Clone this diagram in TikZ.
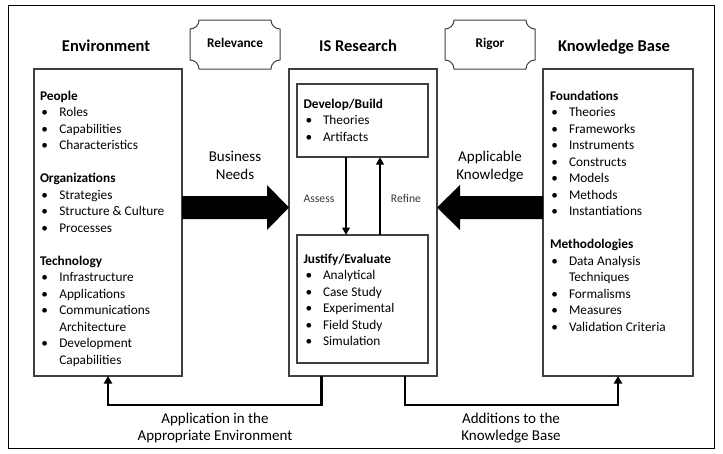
\documentclass[tikz,border=0pt]{standalone}
\usepackage{fontspec}
\setmainfont{Carlito}
\usetikzlibrary{calc,arrows.meta}
\definecolor{boxgray}{HTML}{404040}
\definecolor{txtgray}{HTML}{3A3A3A}
\newcommand\plaquedraw[1]{%
\draw[plaqueline] ($(#1.north west)+(9,0)$) -- ($(#1.north east)+(-9,0)$)
 .. controls ($(#1.north east)+(-9,5)$) and ($(#1.north east)+(-5,9)$) .. ($(#1.north east)+(0,9)$)
 -- ($(#1.south east)+(0,-9)$)
 .. controls ($(#1.south east)+(-5,-9)$) and ($(#1.south east)+(-9,-5)$) .. ($(#1.south east)+(-9,0)$)
 -- ($(#1.south west)+(9,0)$)
 .. controls ($(#1.south west)+(9,-5)$) and ($(#1.south west)+(5,-9)$) .. ($(#1.south west)+(0,-9)$)
 -- ($(#1.north west)+(0,9)$)
 .. controls ($(#1.north west)+(5,9)$) and ($(#1.north west)+(9,5)$) .. cycle;}
\begin{document}
\begin{tikzpicture}[x=1pt,y=-1pt,
 every node/.style={inner sep=0pt, outer sep=0pt},
 panel/.style={draw=boxgray, line width=1.2pt},
 plaqueline/.style={draw=boxgray, line width=1pt},
 title/.style={font=\bfseries\fontsize{16.5}{20}\selectfont, anchor=base},
 plaque/.style={font=\bfseries\fontsize{13.3}{16}\selectfont, text height=9pt, text depth=3pt, minimum width=90pt, minimum height=49pt},
 hd/.style={font=\bfseries\fontsize{13.3}{16}\selectfont, anchor=base west},
 itm/.style={font=\fontsize{13.3}{16}\selectfont, anchor=base west},
 lbl/.style={font=\fontsize{15}{18}\selectfont, anchor=base},
 small/.style={font=\fontsize{11.7}{14}\selectfont, anchor=base, text=txtgray},
 flow/.style={line width=2.6pt, -{Triangle[width=8pt,length=7.5pt]}},
 cyc/.style={line width=2.3pt, -{Triangle[width=7.5pt,length=7.5pt]}},
]
\useasboundingbox (0,0) rectangle (723,453);
\fill[white] (0,0) rectangle (723,453);
\node[draw=black, line width=1pt, minimum width=706pt, minimum height=443pt] (frame) at (361,226.5) {};

% titles
\node[title] (tenv) at (106,51.5) {Environment};
\node[title] (tis) at (358,51.5) {IS Research};
\node[title] (tkb) at (614,51.5) {Knowledge Base};
\node[plaque] (rel) at (235,44.5) {Relevance};
\node[plaque] (rig) at (490,44.5) {Rigor};
\plaquedraw{rel}
\plaquedraw{rig}

% panels
\node[panel, minimum width=148pt, minimum height=307pt] (env) at (108,222.5) {};
\node[panel, minimum width=148pt, minimum height=307pt] (isr) at (363,222.5) {};
\node[panel, minimum width=150pt, minimum height=307pt] (kb) at (618,222.5) {};
\node[panel, minimum width=131pt, minimum height=73pt] (dev) at (362.5,120.5) {};
\node[panel, minimum width=131pt, minimum height=128pt] (jus) at (362.5,299) {};

% environment list
\foreach \t/\n in {People/0,Organizations/5,Technology/10}
  \node[hd] (envh\n) at (40,{100+16.5*\n}) {\t};
\foreach \t/\n in {Roles/1,Capabilities/2,Characteristics/3,Strategies/6,Structure \& Culture/7,Processes/8,Infrastructure/11,Applications/12,Communications/13,Development/15}
  {\node[itm] (envb\n) at (41.3,{100+16.5*\n}) {\textbullet};
   \node[itm] (envt\n) at (59.3,{100+16.5*\n}) {\t};}
\foreach \t/\n in {Architecture/14,Capabilities/16}
  \node[itm] (envt\n) at (59.3,{100+16.5*\n}) {\t};

% knowledge base list
\foreach \t/\n in {Foundations/0,Methodologies/9}
  \node[hd] (kbh\n) at (550,{100+16.5*\n}) {\t};
\foreach \t/\n in {Theories/1,Frameworks/2,Instruments/3,Constructs/4,Models/5,Methods/6,Instantiations/7,Data Analysis/10,Formalisms/12,Measures/13,Validation Criteria/14}
  {\node[itm] (kbb\n) at (551.3,{100+16.5*\n}) {\textbullet};
   \node[itm] (kbt\n) at (569,{100+16.5*\n}) {\t};}
\node[itm] (kbt11) at (569,{100+16.5*11}) {Techniques};

% develop / build
\node[hd] (devh) at (303.5,108.3) {Develop/Build};
\foreach \t/\n in {Theories/1,Artifacts/2}
  {\node[itm] (devb\n) at (305.7,{108.3+16.5*\n}) {\textbullet};
   \node[itm] (devt\n) at (323,{108.3+16.5*\n}) {\t};}

% justify / evaluate
\node[hd] (jush) at (303.5,263.3) {Justify/Evaluate};
\foreach \t/\n in {Analytical/1,Case Study/2,Experimental/3,Field Study/4,Simulation/5}
  {\node[itm] (jusb\n) at (305.7,{263.3+16.5*\n}) {\textbullet};
   \node[itm] (just\n) at (323,{263.3+16.5*\n}) {\t};}

% assess / refine
\draw[cyc] (dev.south -| 346,0) -- (jus.north -| 346,0);
\draw[cyc] (jus.north -| 380,0) -- (dev.south -| 380,0);
\node[small] (assess) at (319,202) {Assess};
\node[small] (refine) at (406,202) {Refine};

% fat arrows
\fill[black] (env.east |- 0,196) -- (267,196) -- (267,185) -- (isr.west |- 0,207.5)
  -- (267,230) -- (267,219) -- (env.east |- 0,219) -- cycle;
\fill[black] (kb.west |- 0,196) -- (460,196) -- (460,185) -- (isr.east |- 0,207.5)
  -- (460,230) -- (460,219) -- (kb.west |- 0,219) -- cycle;
\node[lbl] (bn1) at (235,161) {Business};
\node[lbl] (bn2) at (235,179) {Needs};
\node[lbl] (ak1) at (490,161) {Applicable};
\node[lbl] (ak2) at (490,179) {Knowledge};

% bottom connectors
\draw[flow] (isr.south -| 321.5,0) -- ++(0,29) -| (env.south);
\draw[flow] (isr.south -| 405,0) -- ++(0,29) -| (kb.south);
\node[lbl] (ap1) at (215,423) {Application in the};
\node[lbl] (ap2) at (215,440.5) {Appropriate Environment};
\node[lbl] (ad1) at (511,423) {Additions to the};
\node[lbl] (ad2) at (511,440.5) {Knowledge Base};
\end{tikzpicture}
\end{document}
